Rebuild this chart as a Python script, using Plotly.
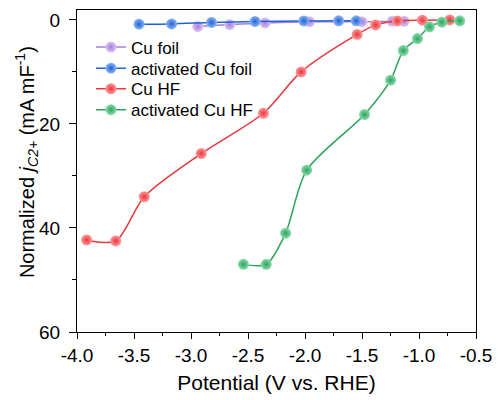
import plotly.graph_objects as go

cu_foil_x = [-2.94, -2.66, -2.35, -1.96, -1.50, -1.236, -1.13]
cu_foil_y = [1.28, 0.9, 0.58, 0.38, 0.38, 0.26, 0.26]

act_foil_x = [-3.456, -3.17, -2.82, -2.438, -2.01, -1.705, -1.55]
act_foil_y = [0.83, 0.77, 0.5, 0.3, 0.2, 0.19, 0.19]

cu_hf_x = [-3.915, -3.66, -3.41, -2.91, -2.365, -2.034, -1.542, -1.38, -1.19, -0.97, -0.73]
cu_hf_y = [42.3, 42.5, 34.0, 25.7, 17.95, 10.0, 2.8, 0.96, 0.2, 0.06, 0.0]

act_hf_x = [-2.54, -2.34, -2.17, -1.985, -1.478, -1.249, -1.138, -1.013, -0.908, -0.80, -0.643]
act_hf_y = [47.0, 47.0, 41.0, 28.9, 18.2, 11.6, 5.9, 3.6, 1.34, 0.45, 0.19]

x_tick_vals = [-4.0, -3.5, -3.0, -2.5, -2.0, -1.5, -1.0, -0.5]
x_tick_text = ["-4.0", "-3.5", "-3.0", "-2.5", "-2.0", "-1.5", "-1.0", "-0.5"]
y_tick_vals = [0, 20, 40, 60]
y_tick_text = ["0", "20", "40", "60"]

series = [
    ("Cu foil", cu_foil_x, cu_foil_y, "#A77BDB", "#DCC6F5"),
    ("activated Cu foil", act_foil_x, act_foil_y, "#1F63D6", "#8DB4F5"),
    ("Cu HF", cu_hf_x, cu_hf_y, "#E8373B", "#FF9A9C"),
    ("activated Cu HF", act_hf_x, act_hf_y, "#2BA35C", "#8DDBAE"),
]
legend_ids = ["legend", "legend2", "legend3", "legend4"]
legend_ys = [0.8836, 0.8179, 0.754, 0.689]

fig = go.Figure()
for (name, xs, ys, col, hi), lid in zip(series, legend_ids):
    fig.add_trace(go.Scatter(
        x=xs, y=ys, name=name, mode="lines+markers", legend=lid,
        line=dict(color=col, width=1.5, shape="spline", smoothing=0.8),
        marker=dict(size=11, color=hi, line=dict(width=0),
                    gradient=dict(type="radial", color=col)),
    ))

font = "Liberation Sans, Arial, sans-serif"
legend_layout = {}
for lid, ly in zip(legend_ids, legend_ys):
    legend_layout[lid] = dict(x=0.035, y=ly, xanchor="left", yanchor="middle",
                              bgcolor="rgba(0,0,0,0)", font=dict(size=17),
                              tracegroupgap=0, itemwidth=30)

fig.update_layout(
    width=501, height=400,
    margin=dict(l=77, r=23, t=9, b=67),
    paper_bgcolor="white", plot_bgcolor="white",
    font=dict(family=font, size=19, color="black"),
    showlegend=True,
    **legend_layout,
    xaxis=dict(
        range=[-4.0, -0.5], tickvals=x_tick_vals, ticktext=x_tick_text,
        showgrid=False, zeroline=False,
        showline=True, linecolor="black", linewidth=1.2, mirror=True,
        ticks="outside", ticklen=6, tickwidth=1.2, tickcolor="black",
        minor=dict(dtick=0.25, ticks="outside", ticklen=3, tickwidth=1, tickcolor="black"),
        title=dict(text="Potential (V vs. RHE)", font=dict(size=21), standoff=10),
    ),
    yaxis=dict(
        range=[60, -1.9], tickvals=y_tick_vals, ticktext=y_tick_text,
        showgrid=False, zeroline=False,
        showline=True, linecolor="black", linewidth=1.2, mirror=True,
        ticks="outside", ticklen=7, tickwidth=1.2, tickcolor="black",
        ticklabelstandoff=5,
        minor=dict(tickvals=[10, 30, 50], ticks="outside", ticklen=4, tickwidth=1, tickcolor="black"),
    ),
    annotations=[dict(
        text="Normalized <i>j</i><sub><i>C2+</i></sub> (mA mF<sup>-1</sup>)",
        xref="paper", yref="paper", x=-0.125, y=0.528,
        xanchor="center", yanchor="middle", textangle=-90, showarrow=False,
        font=dict(size=20),
    )],
)

fig.write_html("out.html")
